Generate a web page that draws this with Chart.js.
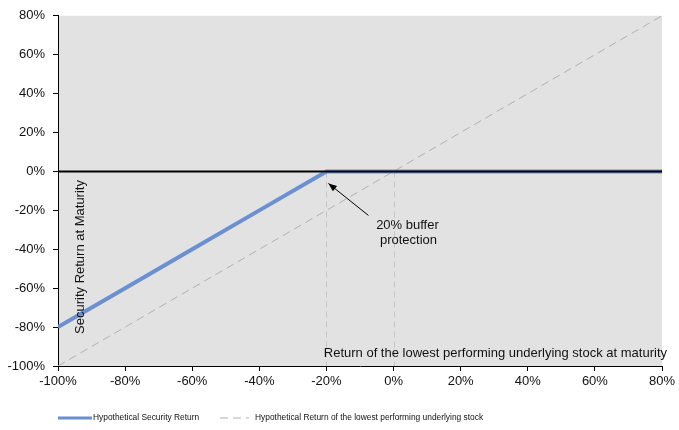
<!DOCTYPE html>
<html>
<head>
<meta charset="utf-8">
<script src="https://cdn.jsdelivr.net/npm/chart.js@4/dist/chart.umd.min.js"></script>
<style>
  html, body { margin: 0; padding: 0; background: #fff; }
  #wrap { width: 679px; height: 430px; position: relative; }
</style>
</head>
<body>
<div id="wrap"><canvas id="payoffChart"></canvas></div>
<script>
// Underlying stock return (x) and resulting returns (y), in %
const underlyingReturns = [-100, -80, -60, -40, -20, 0, 20, 40, 60, 80];
const securityReturns = [-80, -60, -40, -20, 0, 0, 0, 0, 0, 0];
const stockReturns = [-100, -80, -60, -40, -20, 0, 20, 40, 60, 80];
const guideLevels = [-20, 0]; // buffer level and break-even
const seriesNames = ['Hypothetical Security Return', 'Hypothetical Return of the lowest performing underlying stock'];

const FONT = 'Arial, "Liberation Sans", sans-serif';

// Grey plot background
const plotBackground = {
    id: 'plotBackground',
    beforeDraw(chart) {
        const { ctx, chartArea: a } = chart;
        ctx.save();
        ctx.fillStyle = '#e1e2e1';
        ctx.fillRect(a.left, a.top, a.right - a.left, a.bottom - a.top);
        ctx.restore();
    }
};

// Vertical dashed guides at -20% and 0%
const guides = {
    id: 'guides',
    beforeDatasetsDraw(chart) {
        const { ctx, scales: { x, y } } = chart;
        ctx.save();
        ctx.strokeStyle = '#c4c5c4';
        ctx.lineWidth = 1;
        ctx.setLineDash([6, 4]);
        guideLevels.forEach(level => {
            const px = Math.round(x.getPixelForValue(level)) + 0.5;
            ctx.beginPath();
            ctx.moveTo(px, y.getPixelForValue(0));
            ctx.lineTo(px, y.getPixelForValue(-100));
            ctx.stroke();
        });
        ctx.restore();
    }
};

// Zero line, axis titles, annotation and legend
const overlay = {
    id: 'overlay',
    afterDatasetsDraw(chart) {
        const { ctx, chartArea: a, scales: { x, y } } = chart;
        ctx.save();

        // zero line over the flat part of the payoff
        const y0 = y.getPixelForValue(0);
        ctx.strokeStyle = '#000';
        ctx.lineWidth = 2;
        ctx.beginPath();
        ctx.moveTo(a.left, y0);
        ctx.lineTo(a.right, y0);
        ctx.stroke();

        ctx.fillStyle = '#111';
        ctx.font = '13px ' + FONT;

        // y axis title (inside plot)
        ctx.save();
        ctx.translate(a.left + 22, a.bottom - 109);
        ctx.rotate(-Math.PI / 2);
        ctx.textAlign = 'center';
        ctx.textBaseline = 'middle';
        ctx.fillText('Security Return at Maturity', 0, 0);
        ctx.restore();

        // x axis title (inside plot, bottom right)
        ctx.textAlign = 'right';
        ctx.textBaseline = 'middle';
        ctx.fillText('Return of the lowest performing underlying stock at maturity', a.right + 5, a.bottom - 13);

        // annotation: arrow to the buffer point
        const bx = x.getPixelForValue(guideLevels[0]);
        const tipX = bx + 2, tipY = y0 + 12;
        const tailX = bx + 42, tailY = y0 + 44;
        ctx.strokeStyle = '#000';
        ctx.lineWidth = 1;
        ctx.beginPath();
        ctx.moveTo(tailX, tailY);
        ctx.lineTo(tipX, tipY);
        ctx.stroke();
        const ang = Math.atan2(tipY - tailY, tipX - tailX);
        ctx.beginPath();
        ctx.moveTo(tipX, tipY);
        ctx.lineTo(tipX - 9 * Math.cos(ang - 0.38), tipY - 9 * Math.sin(ang - 0.38));
        ctx.lineTo(tipX - 9 * Math.cos(ang + 0.38), tipY - 9 * Math.sin(ang + 0.38));
        ctx.closePath();
        ctx.fillStyle = '#000';
        ctx.fill();

        ctx.fillStyle = '#111';
        ctx.textAlign = 'center';
        ctx.fillText('20% buffer', bx + 81, y0 + 54);
        ctx.fillText('protection', bx + 82, y0 + 69);

        ctx.restore();
    },
    afterDraw(chart) {
        const { ctx, chartArea: a } = chart;
        const ds = chart.data.datasets;
        const ly = a.bottom + 52;
        ctx.save();
        ctx.font = '8.4px ' + FONT;
        ctx.fillStyle = '#111';
        ctx.textAlign = 'left';
        ctx.textBaseline = 'middle';

        // item 1
        ctx.strokeStyle = ds[0].borderColor;
        ctx.lineWidth = 3;
        ctx.beginPath();
        ctx.moveTo(a.left, ly);
        ctx.lineTo(a.left + 34, ly);
        ctx.stroke();
        ctx.fillText(seriesNames[0], a.left + 35, ly);

        // item 2
        ctx.strokeStyle = ds[1].borderColor;
        ctx.lineWidth = 1;
        ctx.setLineDash([8, 5]);
        ctx.beginPath();
        ctx.moveTo(a.left + 162, ly);
        ctx.lineTo(a.left + 191, ly);
        ctx.stroke();
        ctx.setLineDash([]);
        ctx.fillText(seriesNames[1], a.left + 197, ly);
        ctx.restore();
    }
};

const toPoints = ys => underlyingReturns.map((v, i) => ({ x: v, y: ys[i] }));

new Chart(document.getElementById('payoffChart'), {
    type: 'line',
    data: {
        datasets: [{
            label: seriesNames[0],
            data: toPoints(securityReturns),
            borderColor: '#6a90d2',
            borderWidth: 4,
            pointRadius: 0,
            tension: 0
        }, {
            label: seriesNames[1],
            data: toPoints(stockReturns),
            borderColor: '#b0b1b0',
            borderWidth: 1,
            borderDash: [8, 5],
            pointRadius: 0,
            tension: 0
        }]
    },
    options: {
        responsive: true,
        maintainAspectRatio: false,
        animation: false,
        layout: { padding: { top: 12, right: 17, left: 0, bottom: 0 } },
        plugins: {
            legend: { display: false },
            tooltip: { enabled: false }
        },
        scales: {
            x: {
                type: 'linear',
                min: -100,
                max: 80,
                afterFit: scale => { scale.height = 64; },
                ticks: {
                    stepSize: 20,
                    color: '#111',
                    padding: 3,
                    maxRotation: 0,
                    font: { family: FONT, size: 13 },
                    callback: v => v + '%'
                },
                grid: { drawOnChartArea: false, color: '#000', tickLength: 5 },
                border: { color: '#000', width: 1 }
            },
            y: {
                min: -100,
                max: 80,
                afterFit: scale => { scale.width = 58; },
                ticks: {
                    stepSize: 20,
                    color: '#111',
                    padding: 8,
                    font: { family: FONT, size: 13 },
                    callback: v => v + '%'
                },
                grid: { drawOnChartArea: false, color: '#000', tickLength: 5 },
                border: { color: '#000', width: 1 }
            }
        }
    },
    plugins: [plotBackground, guides, overlay]
});
</script>
</body>
</html>
